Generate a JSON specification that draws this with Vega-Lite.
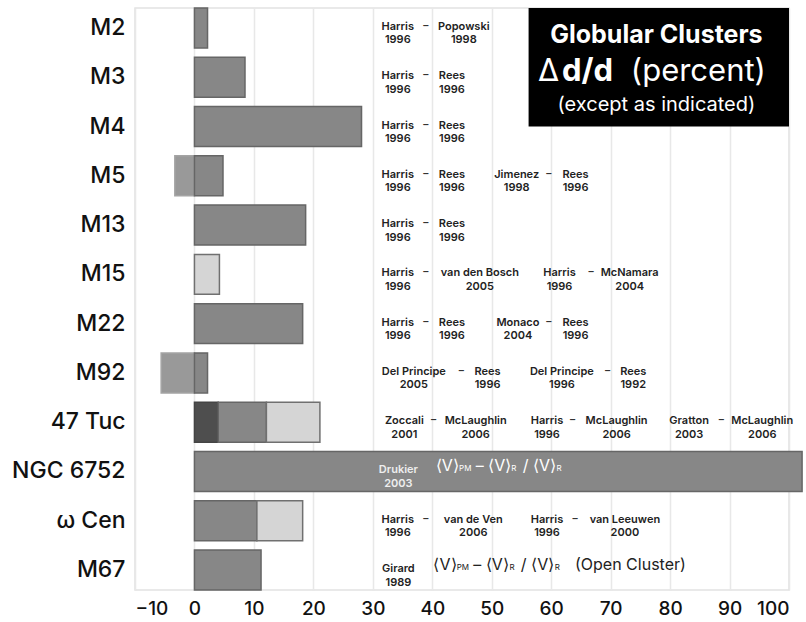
{
  "$schema": "https://vega.github.io/schema/vega-lite/v6.json",
  "width": 654,
  "height": 582,
  "autosize": {"type": "none"},
  "padding": {"left": 135, "top": 8, "right": 17, "bottom": 32},
  "background": "white",
  "config": {
    "view": {"stroke": "#e2e2e2", "strokeWidth": 1.5},
    "font": "Inter",
    "axisX": {"grid": true, "gridColor": "#e8e8e8", "gridWidth": 1.5, "domain": false, "ticks": false, "labelFontSize": 19, "labelFontWeight": 500, "labelColor": "#111", "labelPadding": 9, "title": null},
    "axisY": {"grid": false, "domain": false, "ticks": false, "labelFontSize": 23, "labelFontWeight": 500, "labelColor": "#111", "labelPadding": 10, "title": null}
  },
  "datasets": {
    "bars": [
      {"c": "M2", "a": 0, "b": 2.2, "k": "main"},
      {"c": "M3", "a": 0, "b": 8.5, "k": "main"},
      {"c": "M4", "a": 0, "b": 28.1, "k": "main"},
      {"c": "M5", "a": -3.3, "b": 0, "k": "neg"},
      {"c": "M5", "a": 0, "b": 4.8, "k": "main"},
      {"c": "M13", "a": 0, "b": 18.7, "k": "main"},
      {"c": "M15", "a": 0, "b": 4.2, "k": "light"},
      {"c": "M22", "a": 0, "b": 18.2, "k": "main"},
      {"c": "M92", "a": -5.6, "b": 0, "k": "neg"},
      {"c": "M92", "a": 0, "b": 2.2, "k": "main"},
      {"c": "47 Tuc", "a": 0, "b": 4.0, "k": "dark"},
      {"c": "47 Tuc", "a": 4.0, "b": 12.1, "k": "main"},
      {"c": "47 Tuc", "a": 12.1, "b": 21.1, "k": "light"},
      {"c": "NGC 6752", "a": 0, "b": 102.2, "k": "main"},
      {"c": "ω Cen", "a": 0, "b": 10.5, "k": "main"},
      {"c": "ω Cen", "a": 10.5, "b": 18.2, "k": "light"},
      {"c": "M67", "a": 0, "b": 11.2, "k": "main"}
    ],
    "notes": [
      {"c": "M2", "x": 34.2, "t": "Harris\n1996"},
      {"c": "M2", "x": 45.3, "t": "Popowski\n1998"},
      {"c": "M3", "x": 34.2, "t": "Harris\n1996"},
      {"c": "M3", "x": 43.3, "t": "Rees\n1996"},
      {"c": "M4", "x": 34.2, "t": "Harris\n1996"},
      {"c": "M4", "x": 43.3, "t": "Rees\n1996"},
      {"c": "M5", "x": 34.2, "t": "Harris\n1996"},
      {"c": "M5", "x": 43.3, "t": "Rees\n1996"},
      {"c": "M5", "x": 54.2, "t": "Jimenez\n1998"},
      {"c": "M5", "x": 64.1, "t": "Rees\n1996"},
      {"c": "M13", "x": 34.2, "t": "Harris\n1996"},
      {"c": "M13", "x": 43.3, "t": "Rees\n1996"},
      {"c": "M15", "x": 34.2, "t": "Harris\n1996"},
      {"c": "M15", "x": 48.0, "t": "van den Bosch\n2005"},
      {"c": "M15", "x": 61.4, "t": "Harris\n1996"},
      {"c": "M15", "x": 73.2, "t": "McNamara\n2004"},
      {"c": "M22", "x": 34.2, "t": "Harris\n1996"},
      {"c": "M22", "x": 43.3, "t": "Rees\n1996"},
      {"c": "M22", "x": 54.4, "t": "Monaco\n2004"},
      {"c": "M22", "x": 64.1, "t": "Rees\n1996"},
      {"c": "M92", "x": 36.9, "t": "Del Principe\n2005"},
      {"c": "M92", "x": 49.3, "t": "Rees\n1996"},
      {"c": "M92", "x": 61.8, "t": "Del Principe\n1996"},
      {"c": "M92", "x": 73.8, "t": "Rees\n1992"},
      {"c": "47 Tuc", "x": 35.3, "t": "Zoccali\n2001"},
      {"c": "47 Tuc", "x": 47.3, "t": "McLaughlin\n2006"},
      {"c": "47 Tuc", "x": 59.3, "t": "Harris\n1996"},
      {"c": "47 Tuc", "x": 71.0, "t": "McLaughlin\n2006"},
      {"c": "47 Tuc", "x": 83.2, "t": "Gratton\n2003"},
      {"c": "47 Tuc", "x": 95.5, "t": "McLaughlin\n2006"},
      {"c": "NGC 6752", "x": 34.3, "t": "Drukier\n2003"},
      {"c": "ω Cen", "x": 34.2, "t": "Harris\n1996"},
      {"c": "ω Cen", "x": 46.9, "t": "van de Ven\n2006"},
      {"c": "ω Cen", "x": 59.3, "t": "Harris\n1996"},
      {"c": "ω Cen", "x": 72.4, "t": "van Leeuwen\n2000"},
      {"c": "M67", "x": 34.3, "t": "Girard\n1989"}
    ],
    "unders": [
      {"c": "M2", "x": 38.9}, {"c": "M3", "x": 38.9}, {"c": "M4", "x": 38.9},
      {"c": "M5", "x": 38.9}, {"c": "M5", "x": 59.6}, {"c": "M13", "x": 38.9},
      {"c": "M15", "x": 38.9}, {"c": "M15", "x": 66.7}, {"c": "M22", "x": 38.9},
      {"c": "M22", "x": 59.6}, {"c": "M92", "x": 44.9}, {"c": "M92", "x": 69.5},
      {"c": "47 Tuc", "x": 40.2}, {"c": "47 Tuc", "x": 63.6}, {"c": "47 Tuc", "x": 88.6},
      {"c": "ω Cen", "x": 38.9}, {"c": "ω Cen", "x": 64.0}
    ],
    "formula": [
      {"c": "NGC 6752", "x": 40.6, "t": "⟨V⟩", "s": "main"},
      {"c": "NGC 6752", "x": 44.5, "t": "PM", "s": "sub"},
      {"c": "NGC 6752", "x": 47.3, "t": "– ⟨V⟩", "s": "main"},
      {"c": "NGC 6752", "x": 53.3, "t": "R", "s": "sub"},
      {"c": "NGC 6752", "x": 55.2, "t": "/ ⟨V⟩", "s": "main"},
      {"c": "NGC 6752", "x": 60.9, "t": "R", "s": "sub"},
      {"c": "M67", "x": 40.2, "t": "⟨V⟩", "s": "main"},
      {"c": "M67", "x": 44.1, "t": "PM", "s": "sub"},
      {"c": "M67", "x": 46.9, "t": "– ⟨V⟩", "s": "main"},
      {"c": "M67", "x": 53.0, "t": "R", "s": "sub"},
      {"c": "M67", "x": 54.9, "t": "/ ⟨V⟩", "s": "main"},
      {"c": "M67", "x": 60.6, "t": "R", "s": "sub"},
      {"c": "M67", "x": 64.0, "t": "(Open Cluster)", "s": "main"}
    ]
  },
  "encoding": {
    "y": {"field": "c", "type": "nominal", "sort": ["M2", "M3", "M4", "M5", "M13", "M15", "M22", "M92", "47 Tuc", "NGC 6752", "ω Cen", "M67"],
          "scale": {"domain": ["M2", "M3", "M4", "M5", "M13", "M15", "M22", "M92", "47 Tuc", "NGC 6752", "ω Cen", "M67"], "paddingInner": 0.19, "paddingOuter": 0}}
  },
  "layer": [
    {
      "data": {"name": "bars"},
      "mark": {"type": "bar", "strokeWidth": 1.5, "clip": false},
      "encoding": {
        "x": {"field": "a", "type": "quantitative", "scale": {"domain": [-10, 100], "nice": false, "zero": false}, "axis": {"values": [-10, 0, 10, 20, 30, 40, 50, 60, 70, 80, 90, 100]}},
        "x2": {"field": "b"},
        "color": {"field": "k", "type": "nominal", "scale": {"domain": ["main", "light", "dark", "neg"], "range": ["#878787", "#d5d5d5", "#4e4e4e", "#999999"]}, "legend": null},
        "stroke": {"field": "k", "type": "nominal", "scale": {"domain": ["main", "light", "dark", "neg"], "range": ["#666666", "#707070", "#444444", "#a4a4a4"]}, "legend": null}
      }
    },
    {
      "mark": {"type": "rule", "color": "#b0b0b0", "strokeWidth": 2},
      "encoding": {"x": {"datum": 0, "type": "quantitative"}, "y": null}
    },
    {
      "data": {"name": "notes"},
      "mark": {"type": "text", "align": "center", "baseline": "middle", "lineBreak": "\n", "lineHeight": 13.5, "fontSize": 11, "fontWeight": 600, "dy": -1},
      "encoding": {
        "x": {"field": "x", "type": "quantitative"},
        "text": {"field": "t"},
        "color": {"condition": {"test": "datum.c === 'NGC 6752'", "value": "#eeeeee"}, "value": "#222222"}
      }
    },
    {
      "data": {"name": "unders"},
      "mark": {"type": "text", "align": "center", "baseline": "alphabetic", "fontSize": 11, "fontWeight": 600, "color": "#333", "dy": -3, "text": "_"},
      "encoding": {"x": {"field": "x", "type": "quantitative"}}
    },
    {
      "data": {"name": "formula"},
      "mark": {"type": "text", "align": "left", "baseline": "alphabetic"},
      "encoding": {
        "x": {"field": "x", "type": "quantitative"},
        "text": {"field": "t"},
        "size": {"condition": {"test": "datum.s === 'sub'", "value": 8}, "value": 16},
        "dy": {"condition": {"test": "datum.s === 'sub'", "value": 9}, "value": 6},
        "color": {"condition": {"test": "datum.c === 'NGC 6752'", "value": "#ffffff"}, "value": "#222222"}
      }
    },
    {
      "data": {"values": [{"x1": 56.2, "x2": 100, "top": "M2", "bot": "M4"}]},
      "mark": {"type": "rect", "color": "#000000"},
      "encoding": {
        "x": {"field": "x1", "type": "quantitative"},
        "x2": {"field": "x2"},
        "y": {"field": "top", "type": "nominal", "bandPosition": 0},
        "y2": {"field": "bot", "bandPosition": 0.5}
      }
    },
    {
      "data": {"values": [{"c": "M2", "x": 77.7, "t": "Globular Clusters"}]},
      "mark": {"type": "text", "color": "white", "baseline": "alphabetic", "align": "center", "fontSize": 25, "fontWeight": 700, "dy": 15},
      "encoding": {"x": {"field": "x", "type": "quantitative"}, "text": {"field": "t"}}
    },
    {
      "data": {"values": [{"c": "M3", "x": 57.8, "t": "Δ"}, {"c": "M3", "x": 73.4, "t": "(percent)"}]},
      "mark": {"type": "text", "color": "white", "baseline": "alphabetic", "align": "left", "fontSize": 31, "fontWeight": 400, "dy": 4},
      "encoding": {"x": {"field": "x", "type": "quantitative"}, "text": {"field": "t"}}
    },
    {
      "data": {"values": [{"c": "M3", "x": 61.8, "t": "d/d"}]},
      "mark": {"type": "text", "color": "white", "baseline": "alphabetic", "align": "left", "fontSize": 31, "fontWeight": 700, "dy": 4},
      "encoding": {"x": {"field": "x", "type": "quantitative"}, "text": {"field": "t"}}
    },
    {
      "data": {"values": [{"c": "M4", "x": 77.7, "t": "(except as indicated)"}]},
      "mark": {"type": "text", "color": "white", "baseline": "alphabetic", "align": "center", "fontSize": 20, "fontWeight": 400, "dy": -16},
      "encoding": {"x": {"field": "x", "type": "quantitative"}, "text": {"field": "t"}}
    }
  ]
}
